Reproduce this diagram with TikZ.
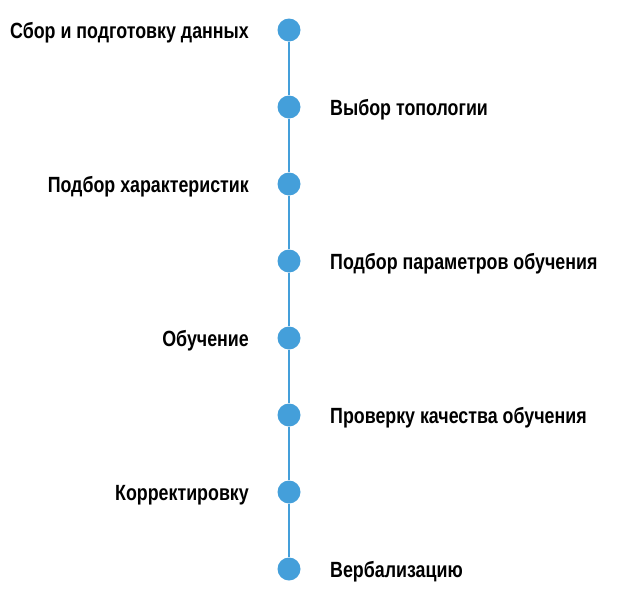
\documentclass[tikz,border=0pt]{standalone}
\usepackage{fontspec}
\setmainfont{Liberation Sans}[FakeStretch=0.81]
\definecolor{dotblue}{HTML}{449FDA}
\begin{document}
\begin{tikzpicture}[x=1pt,y=-1pt,
  dot/.style={circle,fill=dotblue,minimum size=23pt,inner sep=0pt},
  lbl/.style={font=\fontsize{22}{26}\selectfont\bfseries,text=black,inner sep=0pt},
  llbl/.style={lbl,anchor=east},
  rlbl/.style={lbl,anchor=west},
  link/.style={dotblue,line width=1.8pt}]
\useasboundingbox (0,0) rectangle (625,603);
\foreach \i/\y in {1/30,2/107,3/184,4/261,5/338,6/415,7/492,8/569}
  \node[dot] (d\i) at (289,\y) {};
\foreach \a/\b in {1/2,2/3,3/4,4/5,5/6,6/7,7/8}
  \draw[link] (d\a) -- (d\b);
\node[llbl] (t1) at (249,33) {Сбор и подготовку данных};
\node[rlbl] (t2) at (330,110) {Выбор топологии};
\node[llbl] (t3) at (249,187) {Подбор характеристик};
\node[rlbl] (t4) at (330,264) {Подбор параметров обучения};
\node[llbl] (t5) at (249,341) {Обучение};
\node[rlbl] (t6) at (330,418) {Проверку качества обучения};
\node[llbl] (t7) at (249,495) {Корректировку};
\node[rlbl] (t8) at (330,572) {Вербализацию};
\end{tikzpicture}
\end{document}
